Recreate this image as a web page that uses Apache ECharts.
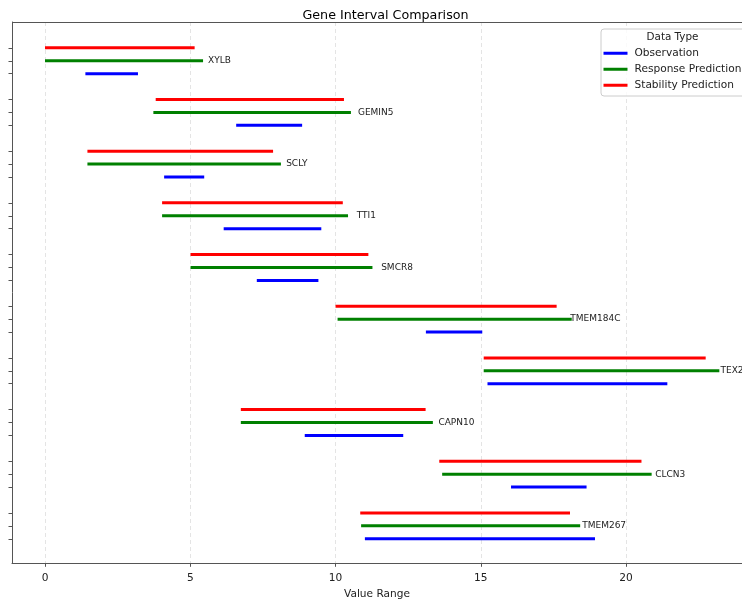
<!DOCTYPE html>
<html>
<head>
<meta charset="utf-8">
<script src="https://cdn.jsdelivr.net/npm/echarts@6/dist/echarts.min.js"></script>
<style>html,body{margin:0;padding:0;background:#fff;}#chart{width:742px;height:601px;}</style>
</head>
<body>
<div id="chart"></div>
<script>
var genes = ['XYLB','GEMIN5','SCLY','TTI1','SMCR8','TMEM184C','TEX2','CAPN10','CLCN3','TMEM267'];
var obsStart  = [1.39, 6.58, 4.10, 6.15, 7.29, 13.11, 15.23, 8.94, 16.04, 11.01];
var obsEnd    = [3.20, 8.85, 5.48, 9.51, 9.41, 15.05, 21.42, 12.33, 18.64, 18.93];
var respStart = [0.00, 3.73, 1.46, 4.03, 5.01, 10.07, 15.10, 6.74, 13.67, 10.88];
var respEnd   = [5.44, 10.53, 8.12, 10.43, 11.27, 18.13, 23.21, 13.35, 20.88, 18.42];
var stabStart = [0.00, 3.81, 1.46, 4.03, 5.01, 10.00, 15.10, 6.74, 13.57, 10.85];
var stabEnd   = [5.15, 10.29, 7.85, 10.25, 11.13, 17.61, 22.74, 13.10, 20.53, 18.07];
var labelX    = [5.61, 10.77, 8.30, 10.73, 11.57, 18.08, 23.25, 13.54, 21.00, 18.49];
var xTicks = [0, 5, 10, 15, 20];

var FONT = 'DejaVu Sans';
function pos(i, k) { return i * 4 + k; }
function build(starts, ends, k) {
  return genes.map(function (g, i) { return [starts[i], ends[i], pos(i, k)]; });
}
var yTicks = [];
genes.forEach(function (g, i) { yTicks.push(pos(i, 0), pos(i, 1), pos(i, 2)); });

function lineRender(color) {
  return function (params, api) {
    var a = api.coord([api.value(0), api.value(2)]);
    var b = api.coord([api.value(1), api.value(2)]);
    return { type: 'line', shape: { x1: a[0], y1: a[1], x2: b[0], y2: b[1] },
      style: { stroke: color, lineWidth: 3 } };
  };
}
var C_OBS = '#0000ff', C_RESP = '#008000', C_STAB = '#ff0000';

var chart = echarts.init(document.getElementById('chart'));
chart.setOption({
  animation: false,
  backgroundColor: '#fff',
  textStyle: { fontFamily: FONT },
  title: { text: 'Gene Interval Comparison', left: 380.5, textAlign: 'center', top: 4,
    textStyle: { fontFamily: FONT, fontSize: 12.7, fontWeight: 'normal', color: '#000' } },
  grid: { left: 12, right: 0, top: 22, bottom: 37.7, containLabel: false, outerBoundsMode: 'none' },
  xAxis: {
    type: 'value', min: -1.136, max: 23.99,
    name: 'Value Range', nameLocation: 'middle', nameGap: 25,
    nameTextStyle: { fontFamily: FONT, fontSize: 10.6, color: '#222' },
    axisLine: { show: true, onZero: false, lineStyle: { color: '#555', width: 1 } },
    axisTick: { show: true, customValues: xTicks, length: 3.5, lineStyle: { color: '#555' } },
    axisLabel: { customValues: xTicks, margin: 9, fontFamily: FONT, fontSize: 10.6, color: '#222' },
    splitLine: { show: true, lineStyle: { color: '#dddddd', type: [4, 3], width: 0.8 } }
  },
  yAxis: {
    type: 'value', inverse: true, min: -2.0, max: 39.9,
    axisLine: { show: true, onZero: false, lineStyle: { color: '#555', width: 1 } },
    axisTick: { show: true, customValues: yTicks, length: 3.5, lineStyle: { color: '#555' } },
    axisLabel: { show: false },
    splitLine: { show: false }
  },
  legend: {
    orient: 'vertical', left: 603.5, top: 47, padding: 0, itemGap: 3.5, z: 6,
    itemWidth: 24, itemHeight: 3, icon: 'rect',
    data: ['Observation', 'Response Prediction', 'Stability Prediction'],
    textStyle: { fontFamily: FONT, fontSize: 10.6, color: '#222', lineHeight: 12.5, padding: [0,0,0,2] }
  },
  graphic: [
    { type: 'line', z: 1, shape: { x1: 12, y1: 22.5, x2: 742, y2: 22.5 },
      style: { stroke: '#555', lineWidth: 1 } },
    { type: 'rect', z: 3, shape: { x: 601, y: 29, width: 160, height: 67, r: 3 },
      style: { fill: 'rgba(255,255,255,0.8)', stroke: '#cccccc', lineWidth: 1 } },
    { type: 'text', z: 7, x: 672.5, y: 37.7,
      style: { text: 'Data Type', fontFamily: FONT, fontSize: 10.4, fill: '#222', align: 'center', verticalAlign: 'middle' } }
  ],
  series: [
    { name: 'Observation', type: 'custom', color: C_OBS, itemStyle: { color: C_OBS },
      renderItem: lineRender(C_OBS), data: build(obsStart, obsEnd, 2), encode: { x: [0, 1], y: 2 }, z: 2 },
    { name: 'Response Prediction', type: 'custom', color: C_RESP, itemStyle: { color: C_RESP },
      renderItem: lineRender(C_RESP), data: build(respStart, respEnd, 1), encode: { x: [0, 1], y: 2 }, z: 2 },
    { name: 'Stability Prediction', type: 'custom', color: C_STAB, itemStyle: { color: C_STAB },
      renderItem: lineRender(C_STAB), data: build(stabStart, stabEnd, 0), encode: { x: [0, 1], y: 2 }, z: 2 },
    { name: 'labels', type: 'custom', z: 3,
      data: genes.map(function (g, i) { return [labelX[i], pos(i, 1), g]; }),
      encode: { x: 0, y: 1 },
      renderItem: function (params, api) {
        var p = api.coord([api.value(0), api.value(1)]);
        return { type: 'text', x: p[0], y: p[1],
          style: { text: genes[params.dataIndex], fontFamily: FONT, fontSize: 9, fill: '#222',
            align: 'left', verticalAlign: 'middle' } };
      } }
  ]
});
</script>
</body>
</html>
